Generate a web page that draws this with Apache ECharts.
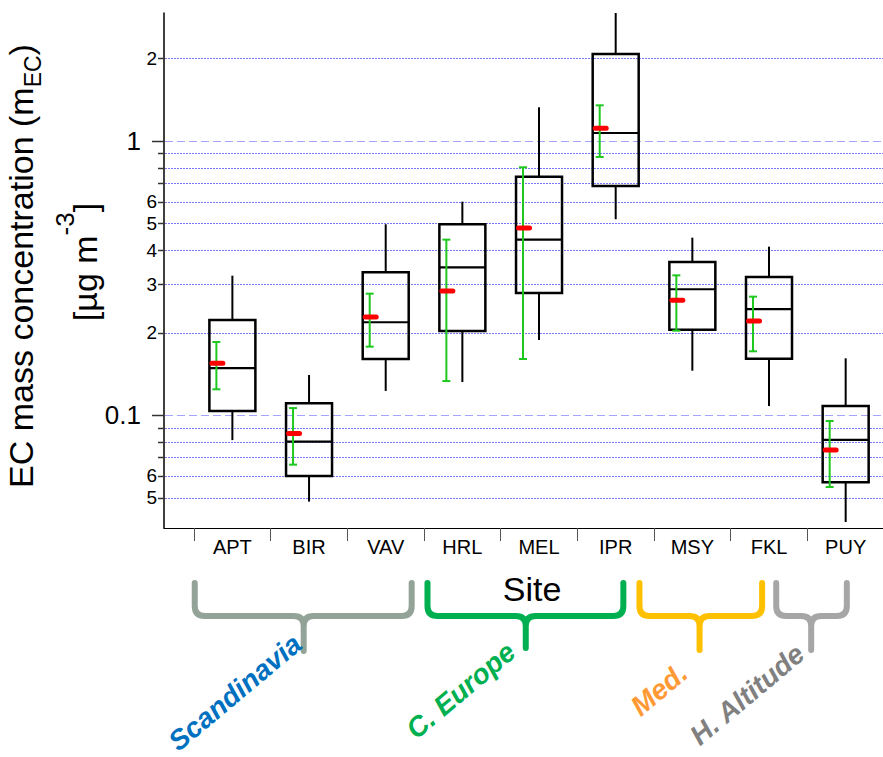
<!DOCTYPE html>
<html><head><meta charset="utf-8">
<script src="https://cdn.jsdelivr.net/npm/echarts@6/dist/echarts.min.js"></script>
<style>html,body{margin:0;padding:0;background:#fff;}#c{width:883px;height:757px;}</style>
</head><body><div id="c"></div>
<script>
// ---- data ----
const sites = ['APT','BIR','VAV','HRL','MEL','IPR','MSY','FKL','PUY'];
const whiskerLow  = [0.081, 0.0483, 0.1224, 0.1319, 0.1878, 0.518, 0.1451, 0.1078, 0.0407];
const q1          = [0.1034, 0.0599, 0.1601, 0.2025, 0.2788, 0.685, 0.2048, 0.1605, 0.0568];
const median      = [0.1484, 0.0799, 0.218, 0.3458, 0.4364, 1.069, 0.2876, 0.2436, 0.0811];
const q3          = [0.2222, 0.1103, 0.3317, 0.4966, 0.7409, 2.077, 0.3618, 0.3189, 0.1078];
const whiskerHigh = [0.3224, 0.140, 0.4966, 0.6006, 1.327, 2.93, 0.4437, 0.4114, 0.161];
const mean        = [0.1544, 0.0857, 0.2279, 0.2836, 0.4815, 1.112, 0.2622, 0.2203, 0.0745];
const meanLow     = [0.1241, 0.0659, 0.1776, 0.133, 0.1601, 0.8742, 0.2031, 0.1708, 0.0546];
const meanHigh    = [0.1847, 0.106, 0.2772, 0.4364, 0.8015, 1.349, 0.3233, 0.2703, 0.0951];
const yGridValues = [0.05,0.06,0.07,0.08,0.09,0.1,0.2,0.3,0.4,0.5,0.6,0.7,0.8,0.9,1,2];
const yLabelValues = [0.05,0.06,0.1,0.2,0.3,0.4,0.5,0.6,1,2];
const yLabels      = ['5','6','0.1','2','3','4','5','6','1','2'];
const groupNames = ['Scandinavia','C. Europe','Med.','H. Altitude'];

// ---- axis ranges / layout ----
const Y_MIN = 0.0387, Y_MAX = 2.93;
const X_MIN = -0.892, X_MAX = 8.5;
const FONT = "'Liberation Sans', Arial, sans-serif";
// brace geometry in category units (left end, right end, tip) + pixel drop of the tip; label anchor
const BRACES = [
  {l: -0.491, r: 2.339, tip: 0.93, drop: 123, color: '#94a398', label: '#0070c0', lx: 0.85, ly: 112},
  {l: 2.545, r: 5.10, tip: 3.827, drop: 120, color: '#00b050', label: '#00b050', lx: 3.64, ly: 120},
  {l: 5.31, r: 6.91, tip: 6.094, drop: 122, color: '#ffc000', label: '#ff9933', lx: 5.885, ly: 141},
  {l: 7.094, r: 8.015, tip: 7.55, drop: 122, color: '#a6a6a6', label: '#808080', lx: 7.41, ly: 122}
];

const isPow10 = v => Math.abs(Math.log10(v) - Math.round(Math.log10(v))) < 1e-9;

const chart = echarts.init(document.getElementById('c'), null, {renderer: 'svg'});

const boxData = sites.map((s, i) => [i, whiskerLow[i], q1[i], median[i], q3[i], whiskerHigh[i], mean[i], meanLow[i], meanHigh[i]]);

function renderBox(params, api) {
  const x = api.value(0);
  const c = v => api.coord([x, v]);
  const pLow = c(api.value(1)), pQ1 = c(api.value(2)), pMed = c(api.value(3)),
        pQ3 = c(api.value(4)), pHigh = c(api.value(5)), pMean = c(api.value(6)),
        pEL = c(api.value(7)), pEH = c(api.value(8));
  const left = api.coord([x - 0.3, api.value(3)])[0];
  const right = api.coord([x + 0.3, api.value(3)])[0];
  const cx = pMed[0];
  const ex = left + 7;
  const black = '#000';
  const green = '#1ec81e';
  return {
    type: 'group',
    children: [
      {type: 'line', shape: {x1: cx, y1: pQ3[1], x2: cx, y2: pHigh[1]}, style: {stroke: black, lineWidth: 2}},
      {type: 'line', shape: {x1: cx, y1: pQ1[1], x2: cx, y2: pLow[1]}, style: {stroke: black, lineWidth: 2}},
      {type: 'rect', shape: {x: left, y: pQ3[1], width: right - left, height: pQ1[1] - pQ3[1]}, style: {stroke: black, fill: 'none', lineWidth: 2.5}},
      {type: 'line', shape: {x1: left, y1: pMed[1], x2: right, y2: pMed[1]}, style: {stroke: black, lineWidth: 2.2}},
      {type: 'line', shape: {x1: ex, y1: pEH[1], x2: ex, y2: pEL[1]}, style: {stroke: green, lineWidth: 2}},
      {type: 'line', shape: {x1: ex - 4, y1: pEH[1], x2: ex + 4, y2: pEH[1]}, style: {stroke: green, lineWidth: 2}},
      {type: 'line', shape: {x1: ex - 4, y1: pEL[1], x2: ex + 4, y2: pEL[1]}, style: {stroke: green, lineWidth: 2}},
      {type: 'rect', shape: {x: left, y: pMean[1] - 2.5, width: 16, height: 5, r: 2.5}, style: {fill: '#ff0000'}}
    ]
  };
}

function renderGrid(params, api) {
  const v = api.value(1);
  const p0 = api.coord([X_MIN, v]), p1 = api.coord([X_MAX, v]);
  const y = Math.round(p0[1]) + 0.5;
  const major = isPow10(v);
  return {
    type: 'line',
    shape: {x1: p0[0] + 1, y1: y, x2: p1[0], y2: y},
    style: {stroke: major ? '#a4a4ff' : '#7878ff', lineWidth: 1, lineDash: major ? [8, 4] : [2, 1]}
  };
}

function renderYTicks(params, api) {
  const v = api.value(1);
  const p = api.coord([X_MIN, v]);
  const y = Math.round(p[1]) + 0.5;
  const major = isPow10(v);
  const children = [{
    type: 'line',
    shape: {x1: p[0] - (major ? 12 : 6), y1: y, x2: p[0], y2: y},
    style: {stroke: '#333', lineWidth: 1.5}
  }];
  const li = yLabelValues.indexOf(v);
  if (li >= 0) {
    children.push({
      type: 'text',
      style: {
        text: yLabels[li], x: p[0] - (major ? 23 : 7), y: p[1],
        fontSize: major ? 26 : 19, fontFamily: FONT, fill: '#000',
        align: 'right', verticalAlign: 'middle'
      }
    });
  }
  return {type: 'group', children};
}

function renderBrace(params, api) {
  const b = BRACES[params.dataIndex];
  const yBase = api.coord([0, Y_MIN])[1];
  const px = u => api.coord([u, Y_MIN])[0];
  const l = px(b.l), r = px(b.r), tip = px(b.tip);
  const top = yBase + 55, mid = yBase + 88, bottom = yBase + b.drop;
  const rr = 10;
  const d = `M${l},${top} L${l},${mid - rr} Q${l},${mid} ${l + rr},${mid} L${tip - rr},${mid} Q${tip},${mid} ${tip},${mid + rr} L${tip},${bottom} ` +
            `M${r},${top} L${r},${mid - rr} Q${r},${mid} ${r - rr},${mid} L${tip + rr},${mid} Q${tip},${mid} ${tip},${mid + rr}`;
  return {
    type: 'group',
    children: [
      {type: 'path', shape: {pathData: d}, style: {stroke: b.color, lineWidth: 6, fill: 'none', lineCap: 'round', lineJoin: 'round'}},
      {type: 'text', x: px(b.lx), y: yBase + b.ly, rotation: 40 * Math.PI / 180,
       style: {text: groupNames[params.dataIndex], fontSize: 28, fontWeight: 'bold', fontStyle: 'italic', fontFamily: FONT,
               fill: b.label, align: 'right', verticalAlign: 'middle'}}
    ]
  };
}

const tickPositions = [];
for (let i = 0; i <= sites.length; i++) tickPositions.push(i - 0.5);

chart.setOption({
  animation: false,
  backgroundColor: '#fff',
  textStyle: {fontFamily: FONT},
  grid: {left: 164, right: -1, top: 13, bottom: 229, containLabel: false, outerBoundsMode: 'none'},
  xAxis: {
    type: 'value', min: X_MIN, max: X_MAX,
    splitLine: {show: false},
    axisLine: {show: true, onZero: false, lineStyle: {color: '#000', width: 1}},
    axisTick: {show: true, customValues: tickPositions, length: 13, lineStyle: {color: '#555', width: 1}},
    axisLabel: {
      show: true, customValues: sites.map((s, i) => i),
      formatter: v => sites[Math.round(v)], fontSize: 20, color: '#000', margin: 9, fontFamily: FONT
    }
  },
  yAxis: {
    type: 'log', min: Y_MIN, max: Y_MAX,
    splitLine: {show: false},
    axisTick: {show: false},
    axisLabel: {show: false},
    axisLine: {show: true, onZero: false, lineStyle: {color: '#000', width: 1.5}}
  },
  series: [
    {type: 'custom', coordinateSystem: 'cartesian2d', silent: true, z: 1,
     data: yGridValues.map(v => [X_MIN, v]), renderItem: renderGrid},
    {type: 'custom', coordinateSystem: 'cartesian2d', silent: true, z: 3,
     data: yGridValues.map(v => [X_MIN, v]), renderItem: renderYTicks, clip: false},
    {type: 'custom', coordinateSystem: 'cartesian2d', silent: true, z: 5,
     data: boxData, renderItem: renderBox, clip: false},
    {type: 'custom', coordinateSystem: 'cartesian2d', silent: true, z: 5,
     data: BRACES.map(b => [b.tip, Y_MIN]), renderItem: renderBrace, clip: false}
  ],
  graphic: [
    {type: 'text', silent: true, x: 532, y: 589,
     style: {text: 'Site', fontSize: 34, fontFamily: FONT, fill: '#000', align: 'center', verticalAlign: 'middle'}},
    {type: 'text', silent: true, x: 21, y: 266, rotation: Math.PI / 2,
     style: {
       text: '{a|EC mass concentration (m}{s|EC}{a|)}', align: 'center', verticalAlign: 'middle',
       rich: {
         a: {fontSize: 34, lineHeight: 46, fontFamily: FONT, fill: '#000'},
         s: {fontSize: 23, lineHeight: 23, fontFamily: FONT, fill: '#000', verticalAlign: 'bottom'}
       }
     }},
    {type: 'text', silent: true, x: 85, y: 262, rotation: Math.PI / 2,
     style: {
       text: '{a|[µg m}{p|-3}{a|]}', align: 'center', verticalAlign: 'middle',
       rich: {
         a: {fontSize: 34, lineHeight: 66, fontFamily: FONT, fill: '#000'},
         p: {fontSize: 26, lineHeight: 28, fontFamily: FONT, fill: '#000', verticalAlign: 'top'}
       }
     }}
  ]
});
</script>
</body></html>
